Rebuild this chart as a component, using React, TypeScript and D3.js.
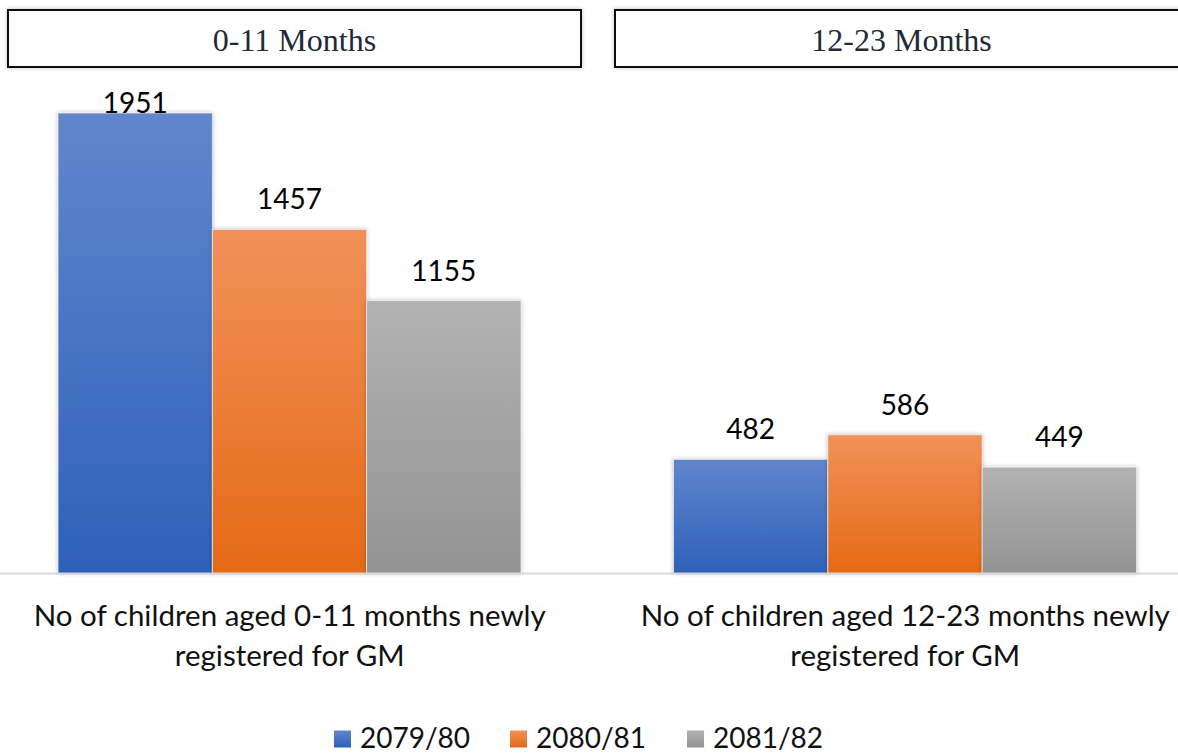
import { useEffect, useRef } from "react";
import { select, scaleBand, scaleLinear } from "d3";

// panel headers and category labels
const panels = ["0-11 Months", "12-23 Months"];
const categoryLines = [
  ["No of children aged 0-11 months newly", "registered for GM"],
  ["No of children aged 12-23 months newly", "registered for GM"],
];
const seriesNames = ["2079/80", "2080/81", "2081/82"];
// values per category, one per series
const values0to11 = [1951, 1457, 1155];
const values12to23 = [482, 586, 449];
const allValues = [values0to11, values12to23];

const gradients = [
  ["#6186cd", "#2e61b9"],
  ["#f19159", "#e56a16"],
  ["#b2b2b2", "#939393"],
];

const W = 1178;
const H = 753;
const FONT = "Lato, 'Open Sans', sans-serif";

export default function App() {
  const ref = useRef<SVGSVGElement>(null);

  useEffect(() => {
    document.body.style.margin = "0";
    document.body.style.overflow = "hidden";
    const svg = select(ref.current);
    svg.selectAll("*").remove();

    const defs = svg.append("defs");
    gradients.forEach((g, i) => {
      const lg = defs
        .append("linearGradient")
        .attr("id", "grad" + i)
        .attr("x1", 0)
        .attr("y1", 0)
        .attr("x2", 0)
        .attr("y2", 1);
      lg.append("stop").attr("offset", "0%").attr("stop-color", g[0]);
      lg.append("stop").attr("offset", "100%").attr("stop-color", g[1]);
    });
    const f = defs
      .append("filter")
      .attr("id", "shadow")
      .attr("x", "-10%")
      .attr("y", "-10%")
      .attr("width", "120%")
      .attr("height", "120%");
    f.append("feDropShadow")
      .attr("dx", 0)
      .attr("dy", 0)
      .attr("stdDeviation", 2)
      .attr("flood-color", "#000")
      .attr("flood-opacity", 0.25);

    // header boxes
    const xh = scaleBand<string>().domain(panels).range([8, 1188]).paddingInner(34 / 607);
    const hg = svg.append("g");
    hg.selectAll("rect")
      .data(panels)
      .join("rect")
      .attr("x", (d) => xh(d)!)
      .attr("y", 10)
      .attr("width", (_, i) => (i === 0 ? xh.bandwidth() : xh.bandwidth() + 30))
      .attr("height", 57)
      .attr("fill", "#fff")
      .attr("stroke", "#111")
      .attr("stroke-width", 2)
      .attr("filter", "url(#shadow)");
    hg.selectAll("text")
      .data(panels)
      .join("text")
      .attr("x", (d) => xh(d)! + xh.bandwidth() / 2)
      .attr("y", 51)
      .attr("text-anchor", "middle")
      .attr("font-family", "'Liberation Serif', 'Times New Roman', serif")
      .attr("font-size", 32)
      .attr("fill", "#222a38")
      .text((d) => d);

    const x0 = scaleBand<number>().domain([0, 1]).range([-18, 1213]);
    const x1 = scaleBand<string>()
      .domain(seriesNames)
      .range([76, x0.bandwidth() - 76.5]);
    const y = scaleLinear().domain([0, 1951]).range([573, 113]);

    // axis line
    svg
      .append("line")
      .attr("x1", 0)
      .attr("x2", W)
      .attr("y1", y(0) + 0.5)
      .attr("y2", y(0) + 0.5)
      .attr("stroke", "#d9d9d9")
      .attr("stroke-width", 2);

    const groups = svg
      .selectAll("g.grp")
      .data(allValues)
      .join("g")
      .attr("class", "grp")
      .attr("transform", (_, i) => `translate(${x0(i)},0)`);

    groups
      .selectAll("rect")
      .data((d) => d)
      .join("rect")
      .attr("x", (_, i) => x1(seriesNames[i])!)
      .attr("y", (d) => y(d))
      .attr("width", x1.bandwidth())
      .attr("height", (d) => y(0) - y(d))
      .attr("fill", (_, i) => `url(#grad${i})`)
      .attr("stroke", "#e8e8e8")
      .attr("stroke-width", 0.8)
      .attr("filter", "url(#shadow)");

    groups
      .selectAll("text.val")
      .data((d) => d)
      .join("text")
      .attr("class", "val")
      .attr("x", (_, i) => x1(seriesNames[i])! + x1.bandwidth() / 2)
      .attr("y", (d) => Math.max(y(d) - 20, 113))
      .attr("text-anchor", "middle")
      .attr("font-family", FONT)
      .attr("font-size", 28)
      .attr("fill", "#000")
      .text((d) => d);

    // category labels
    categoryLines.forEach((lines, i) => {
      const t = svg
        .append("text")
        .attr("text-anchor", "middle")
        .attr("font-family", FONT)
        .attr("font-size", 29.5)
        .attr("fill", "#111");
      lines.forEach((l, j) => {
        t.append("tspan")
          .attr("x", x0(i)! + x0.bandwidth() / 2)
          .attr("y", 626 + j * 40)
          .text(l);
      });
    });

    // legend
    const legendX = [334, 510, 687];
    const lg = svg
      .selectAll("g.leg")
      .data(seriesNames)
      .join("g")
      .attr("class", "leg")
      .attr("transform", (_, i) => `translate(${legendX[i]},739)`);
    lg.append("rect")
      .attr("x", 0)
      .attr("y", -8.5)
      .attr("width", 17)
      .attr("height", 17)
      .attr("fill", (_, i) => `url(#grad${i})`);
    lg.append("text")
      .attr("x", 26)
      .attr("y", 8.5)
      .attr("font-family", FONT)
      .attr("font-size", 28)
      .attr("fill", "#111")
      .text((d) => d);
  }, []);

  return <svg ref={ref} width={W} height={H} style={{ display: "block" }} />;
}
